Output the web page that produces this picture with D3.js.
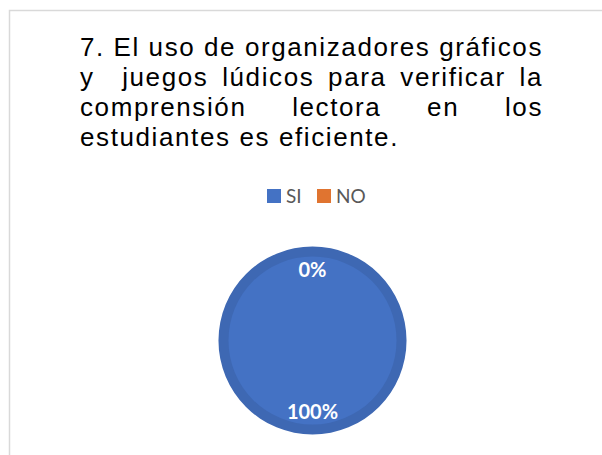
<!DOCTYPE html>
<html>
<head>
<meta charset="utf-8">
<script src="https://cdn.jsdelivr.net/npm/d3@7"></script>
<style>
  html, body { margin: 0; padding: 0; background: #fff; }
  svg { display: block; }
</style>
</head>
<body>
<div id="chart"></div>
<script>
// data
const titleLines = [
  '7. El uso de organizadores gráficos',
  'y  juegos lúdicos para verificar la',
  'comprensión lectora en los',
  'estudiantes es eficiente.'
]
const categories = ['SI', 'NO']
const values = [100, 0]
const colors = ['#4472C4', '#E07430']

/*----------------------------------------------------------------------------*/

const width = 602
const height = 455

const svg = d3.select('#chart').append('svg')
  .attr('width', width)
  .attr('height', height)

// chart frame (only top and left edges show)
svg.append('rect')
  .attr('x', 9.5)
  .attr('y', 10.5)
  .attr('width', 700)
  .attr('height', 600)
  .attr('fill', 'none')
  .attr('stroke', '#d9d9d9')
  .attr('stroke-width', 1.5)

// justified title
const titleLeft = 80
const titleRight = 543
const title = svg.append('g')
  .attr('font-family', '"Liberation Sans", Arial, sans-serif')
  .attr('font-size', 26)
  .attr('letter-spacing', 1.6)
  .attr('fill', '#000')

titleLines.forEach((line, i) => {
  const y = 56 + i * 30
  const words = line.split(' ')
  const t = title.append('text').attr('y', y)
  if (i === titleLines.length - 1) {
    t.attr('x', titleLeft).text(line)
    return
  }
  const spans = words.map(w => t.append('tspan').attr('y', y).text(w))
  const widths = spans.map(s => w0(s))
  const total = d3.sum(widths)
  const gap = (titleRight - titleLeft - total) / (words.length - 1)
  let x = titleLeft
  spans.forEach((s, j) => {
    s.attr('x', x)
    x += widths[j] + gap
  })
})

function w0(sel) {
  return sel.text() === '' ? 0 : sel.node().getComputedTextLength()
}

// legend
const legend = svg.append('g')
  .attr('font-family', 'Lato, "Open Sans", sans-serif')
  .attr('font-size', 19)
  .attr('fill', '#595959')

const legendX = d3.scalePoint()
  .domain(categories)
  .range([267, 317])

categories.forEach((c, i) => {
  const g = legend.append('g')
    .attr('transform', `translate(${legendX(c)}, 189)`)
  g.append('rect')
    .attr('width', 14)
    .attr('height', 14)
    .attr('fill', colors[i])
  g.append('text')
    .attr('x', 19)
    .attr('y', 7)
    .attr('dy', '0.35em')
    .text(c)
})

// pie
const cx = 312.5
const cy = 340.5
const outerRadius = 94

const pie = d3.pie()
  .sort(null)
  .value(d => d)

const arcs = pie(values)

const arc = d3.arc()
  .innerRadius(0)
  .outerRadius(outerRadius)

const innerArc = d3.arc()
  .innerRadius(0)
  .outerRadius(outerRadius - 10)

const labelArc = d3.arc()
  .innerRadius(71)
  .outerRadius(71)

const pieG = svg.append('g')
  .attr('transform', `translate(${cx}, ${cy})`)

pieG.selectAll('.ring')
  .data(arcs)
  .enter()
  .append('path')
  .attr('class', 'ring')
  .attr('d', arc)
  .attr('fill', (d, i) => d3.color(colors[i]).darker(0.25))

pieG.selectAll('.slice')
  .data(arcs)
  .enter()
  .append('path')
  .attr('class', 'slice')
  .attr('d', innerArc)
  .attr('fill', (d, i) => colors[i])

const total = d3.sum(values)
pieG.selectAll('.label')
  .data(arcs)
  .enter()
  .append('text')
  .attr('class', 'label')
  .attr('transform', d => `translate(${labelArc.centroid(d)})`)
  .attr('text-anchor', 'middle')
  .attr('dy', '0.35em')
  .attr('font-family', 'Lato, "Open Sans", sans-serif')
  .attr('font-weight', 'bold')
  .attr('font-size', 20)
  .attr('fill', '#fff')
  .text(d => Math.round(d.data / total * 100) + '%')
</script>
</body>
</html>
